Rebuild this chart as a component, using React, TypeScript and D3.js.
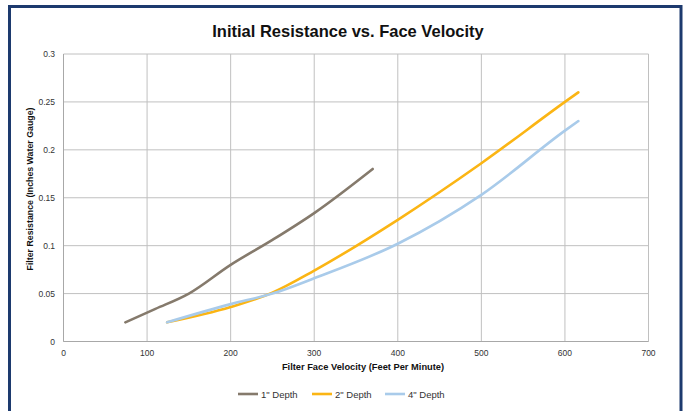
import React from "react";
import * as d3 from "d3";

const xTicks = [0, 100, 200, 300, 400, 500, 600, 700];
const yTicks = [0, 0.05, 0.1, 0.15, 0.2, 0.25, 0.3];
const yTickLabels = ["0", "0.05", "0.1", "0.15", "0.2", "0.25", "0.3"];

const depth1X = [74, 110, 150, 200, 250, 300, 370];
const depth1Y = [0.02, 0.034, 0.05, 0.08, 0.106, 0.134, 0.18];
const depth2X = [124, 200, 250, 300, 400, 500, 600, 616];
const depth2Y = [0.02, 0.036, 0.051, 0.074, 0.127, 0.186, 0.25, 0.26];
const depth4X = [124, 200, 250, 300, 400, 500, 600, 616];
const depth4Y = [0.02, 0.039, 0.05, 0.066, 0.102, 0.153, 0.22, 0.23];

const seriesNames = ['1" Depth', '2" Depth', '4" Depth'];
const seriesColors = ["#857a6c", "#fbb514", "#a9cbea"];

export default function App() {
  const W = 686, H = 411;
  const x = d3.scaleLinear().domain([0, 700]).range([63.5, 648.5]);
  const y = d3.scaleLinear().domain([0, 0.3]).range([341.5, 54]);
  const line = d3
    .line<[number, number]>()
    .x((d) => x(d[0]))
    .y((d) => y(d[1]))
    .curve(d3.curveMonotoneX);
  const series = [
    depth1X.map((v, i) => [v, depth1Y[i]] as [number, number]),
    depth2X.map((v, i) => [v, depth2Y[i]] as [number, number]),
    depth4X.map((v, i) => [v, depth4Y[i]] as [number, number]),
  ];
  const font = "'Liberation Sans', Arial, Helvetica, sans-serif";
  const legendX = [238, 312, 385];
  return (
    <svg
      width={W}
      height={H}
      style={{ position: "absolute", left: 0, top: 0, background: "#fff" }}
      fontFamily={font}
    >
      <rect x={0} y={0} width={W} height={H} fill="#fff" />
      <path d="M9.5,420 L9.5,6.5 L681,6.5 L681,420" fill="none" stroke="#1d3a6e" strokeWidth={3} />
      <text x={348} y={37} textAnchor="middle" fontSize={16.5} fontWeight="bold" fill="#111">
        Initial Resistance vs. Face Velocity
      </text>
      {yTicks.map((t) => (
        <line key={"gy" + t} x1={x(0)} x2={x(700)} y1={y(t)} y2={y(t)} stroke="#c0c0c0" strokeWidth={1} />
      ))}
      {xTicks.map((t) => (
        <line key={"gx" + t} x1={x(t)} x2={x(t)} y1={y(0)} y2={y(0.3)} stroke="#c0c0c0" strokeWidth={1} />
      ))}
      <line x1={x(0)} x2={x(0)} y1={y(0)} y2={y(0.3)} stroke="#a8a8a8" strokeWidth={1} />
      <line x1={x(0)} x2={x(700)} y1={y(0)} y2={y(0)} stroke="#a8a8a8" strokeWidth={1} />
      {yTicks.map((t, i) => (
        <text key={"ly" + t} x={55} y={y(t) + 3} textAnchor="end" fontSize={8.5} fill="#333">
          {yTickLabels[i]}
        </text>
      ))}
      {xTicks.map((t) => (
        <text key={"lx" + t} x={x(t)} y={356} textAnchor="middle" fontSize={8.5} fill="#333">
          {t}
        </text>
      ))}
      <text
        transform={`translate(33,${189}) rotate(-90)`}
        textAnchor="middle"
        fontSize={8.8}
        fontWeight="bold"
        fill="#111"
      >
        Filter Resistance (Inches Water Gauge)
      </text>
      <text x={363} y={370} textAnchor="middle" fontSize={9.3} fontWeight="bold" fill="#111">
        Filter Face Velocity (Feet Per Minute)
      </text>
      {series.map((s, i) => (
        <path
          key={"s" + i}
          d={line(s) || ""}
          fill="none"
          stroke={seriesColors[i]}
          strokeWidth={2.6}
          strokeLinecap="round"
        />
      ))}
      {seriesNames.map((n, i) => (
        <g key={"lg" + i}>
          <line
            x1={legendX[i]}
            x2={legendX[i] + 20}
            y1={394}
            y2={394}
            stroke={seriesColors[i]}
            strokeWidth={2.6}
          />
          <text x={legendX[i] + 23} y={397.5} fontSize={9.5} fill="#333">
            {n}
          </text>
        </g>
      ))}
    </svg>
  );
}
